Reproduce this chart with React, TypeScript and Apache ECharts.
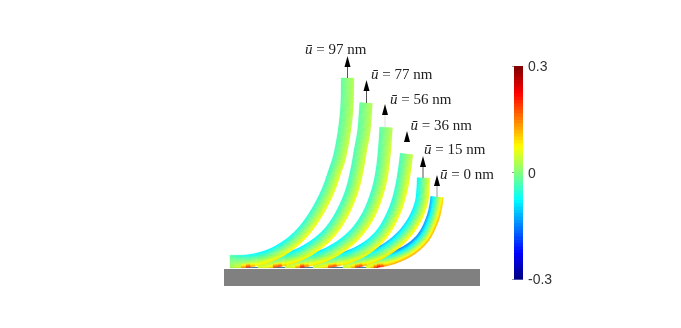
import React, { useEffect, useRef } from "react";
import * as echarts from "echarts";

// Centre lines, base to tip, with the strain at the inner and outer edge.
const beam97X = [230, 250, 270, 288, 303, 316, 327.5, 335, 340, 344.5, 347, 347.5];
const beam97Y = [261.5, 260.8, 255.5, 245.5, 232, 214, 192, 171, 155, 130, 105, 78];
const beam97In = [-0.02, -0.08, -0.09, -0.08, -0.065, -0.055, -0.05, -0.045, -0.04, -0.03, -0.025, -0.02];
const beam97Out = [0.02, 0.09, 0.09, 0.08, 0.075, 0.07, 0.065, 0.06, 0.05, 0.04, 0.035, 0.03];

const beam77X = [258, 277, 297, 315, 330, 342, 351.5, 357, 360.5, 364, 366];
const beam77Y = [261.5, 260.8, 255.5, 245.5, 232, 214, 192, 170, 150, 130, 103];
const beam77In = [-0.06, -0.1, -0.1, -0.08, -0.065, -0.055, -0.05, -0.045, -0.035, -0.03, -0.02];
const beam77Out = [0.05, 0.1, 0.09, 0.08, 0.075, 0.07, 0.065, 0.06, 0.05, 0.04, 0.03];

const beam56X = [285, 304, 324, 342, 357, 369, 377.5, 382, 384.5, 386];
const beam56Y = [261.5, 260.8, 255.5, 245.5, 232, 214, 192, 172, 150, 127.5];
const beam56In = [-0.06, -0.1, -0.1, -0.08, -0.065, -0.055, -0.05, -0.045, -0.035, -0.025];
const beam56Out = [0.05, 0.1, 0.09, 0.08, 0.075, 0.07, 0.065, 0.06, 0.05, 0.03];

const beam36X = [313, 332, 352, 370, 384, 395, 401, 404.5, 406.5];
const beam36Y = [261.5, 260.8, 255.5, 245.5, 231, 210, 190, 170, 154];
const beam36In = [-0.06, -0.11, -0.11, -0.09, -0.075, -0.065, -0.055, -0.045, -0.035];
const beam36Out = [0.05, 0.1, 0.09, 0.08, 0.08, 0.07, 0.07, 0.06, 0.04];

const beam15X = [343, 358, 376, 392, 405, 415, 421, 422.8, 423.5];
const beam15Y = [261.5, 260.8, 255, 245.5, 233.5, 219, 204, 192, 178];
const beam15In = [-0.06, -0.12, -0.13, -0.12, -0.11, -0.1, -0.09, -0.085, -0.08];
const beam15Out = [0.05, 0.1, 0.1, 0.09, 0.085, 0.08, 0.075, 0.07, 0.06];

const beam0X = [366, 380, 395, 411, 424, 432.5, 436, 437];
const beam0Y = [261.5, 260.8, 257, 249, 236.5, 219, 205, 197];
const beam0In = [-0.08, -0.13, -0.16, -0.16, -0.15, -0.14, -0.13, -0.12];
const beam0Out = [0.05, 0.13, 0.13, 0.13, 0.12, 0.12, 0.11, 0.1];

// Drawn from the smallest displacement up, so that each beam lies over the next one's base.
const beams = [
  { x: beam0X, y: beam0Y, inner: beam0In, outer: beam0Out, hot: 378 },
  { x: beam15X, y: beam15Y, inner: beam15In, outer: beam15Out, hot: 358 },
  { x: beam36X, y: beam36Y, inner: beam36In, outer: beam36Out, hot: 332 },
  { x: beam56X, y: beam56Y, inner: beam56In, outer: beam56Out, hot: 302 },
  { x: beam77X, y: beam77Y, inner: beam77In, outer: beam77Out, hot: 277 },
  { x: beam97X, y: beam97Y, inner: beam97In, outer: beam97Out, hot: 247 },
];

const displacements = [97, 77, 56, 36, 15, 0];
const arrowX = [347.5, 366.5, 385, 407, 423, 437];
const arrowBase = [78, 103, 127, 154, 178, 197];
const arrowTip = [56, 80, 104, 131, 156, 175];
const arrowStroke = ["#555", "#555", "#ddd", "#fff", "#555", "#999"];
const labelX = [305, 371, 390, 410.5, 424, 440];
const labelY = [49, 74, 99, 125, 149, 174];

const jet = ["#00007f", "#0000ff", "#007fff", "#00ffff", "#7fff7f", "#ffff00", "#ff7f00", "#ff0000", "#7f0000"];
const barMin = -0.3;
const barMax = 0.3;
const barLevels = 64;

const HALF = 6.3;
const STRIPS = 14;
const SUB = 5;

function cr(p0: number, p1: number, p2: number, p3: number, t: number) {
  return 0.5 * (2 * p1 + (p2 - p0) * t + (2 * p0 - 5 * p1 + 4 * p2 - p3) * t * t + (3 * p1 - p0 - 3 * p2 + p3) * t * t * t);
}

function sampled(a: number[]) {
  const out: number[] = [];
  for (let i = 0; i < a.length - 1; i++) {
    const p0 = a[Math.max(i - 1, 0)];
    const p3 = a[Math.min(i + 2, a.length - 1)];
    for (let k = 0; k < SUB; k++) out.push(cr(p0, a[i], a[i + 1], p3, k / SUB));
  }
  out.push(a[a.length - 1]);
  return out;
}

function buildRows() {
  const rows: number[][] = [];
  beams.forEach((b) => {
    const xs = sampled(b.x);
    const ys = sampled(b.y);
    const inn: number[] = [];
    const outr: number[] = [];
    for (let i = 0; i < b.x.length - 1; i++) {
      for (let k = 0; k < SUB; k++) {
        const t = k / SUB;
        inn.push(b.inner[i] + (b.inner[i + 1] - b.inner[i]) * t);
        outr.push(b.outer[i] + (b.outer[i + 1] - b.outer[i]) * t);
      }
    }
    inn.push(b.inner[b.inner.length - 1]);
    outr.push(b.outer[b.outer.length - 1]);
    const normal = (i: number) => {
      const a = Math.max(i - 1, 0);
      const c = Math.min(i + 1, xs.length - 1);
      const dx = xs[c] - xs[a];
      const dy = ys[c] - ys[a];
      const l = Math.hypot(dx, dy) || 1;
      return [dy / l, -dx / l];
    };
    for (let i = 0; i < xs.length - 1; i++) {
      const n0 = normal(i);
      const n1 = normal(i + 1);
      for (let s = 0; s < STRIPS; s++) {
        const o0 = HALF * (1 - (2 * s) / STRIPS);
        const o1 = HALF * (1 - (2 * (s + 1)) / STRIPS);
        const f = (s + 0.5) / STRIPS;
        const v0 = inn[i] + (outr[i] - inn[i]) * f;
        const v1 = inn[i + 1] + (outr[i + 1] - inn[i + 1]) * f;
        const near = Math.abs((xs[i] + xs[i + 1]) / 2 - b.hot);
        const boost = near < 7 && f > 0.72 ? 0.1 * (1 - near / 7) * ((f - 0.72) / 0.28 + 0.4) : 0;
        rows.push([
          xs[i] + n0[0] * o0, ys[i] + n0[1] * o0,
          xs[i] + n0[0] * o1, ys[i] + n0[1] * o1,
          xs[i + 1] + n1[0] * o1, ys[i + 1] + n1[1] * o1,
          xs[i + 1] + n1[0] * o0, ys[i + 1] + n1[1] * o0,
          (v0 + v1) / 2 + boost,
        ]);
      }
    }
  });
  return rows;
}

function buildBar() {
  const rows: number[][] = [];
  const step = (barMax - barMin) / barLevels;
  for (let i = 0; i < barLevels; i++) {
    const lo = barMin + i * step;
    rows.push([0, lo, 1, lo + step, 0, 0, 0, 0, lo + step / 2]);
  }
  return rows;
}

export default function App() {
  const ref = useRef<HTMLDivElement>(null);
  useEffect(() => {
    const chart = echarts.init(ref.current!, null, { renderer: "svg" });
    const serif = "'Liberation Serif', 'DejaVu Serif', serif";
    chart.setOption({
      animation: false,
      grid: [
        { left: 0, top: 0, width: 681, height: 328 },
        { left: 514, top: 66, width: 9, height: 213 },
      ],
      xAxis: [
        { gridIndex: 0, type: "value", min: 0, max: 681, show: false },
        { gridIndex: 1, type: "value", min: 0, max: 1, show: false },
      ],
      yAxis: [
        { gridIndex: 0, type: "value", min: 0, max: 328, inverse: true, show: false },
        {
          gridIndex: 1,
          type: "value",
          min: barMin,
          max: barMax,
          interval: 0.3,
          position: "right",
          z: 10,
          axisLine: { show: false },
          splitLine: { show: false },
          axisTick: { show: true, inside: true, length: 2, lineStyle: { color: "#555", width: 0.6 } },
          axisLabel: {
            margin: 5,
            fontFamily: "'Liberation Sans', Arial, sans-serif",
            fontSize: 14,
            color: "#333",
            formatter: (v: number) => (Math.abs(v) < 1e-9 ? "0" : String(Math.round(v * 10) / 10)),
          },
        },
      ],
      visualMap: {
        type: "continuous",
        show: false,
        seriesIndex: [1, 3],
        dimension: 8,
        min: barMin,
        max: barMax,
        inRange: { color: jet },
      },
      series: [
        {
          type: "custom",
          coordinateSystem: "cartesian2d",
          xAxisIndex: 0,
          yAxisIndex: 0,
          clip: false,
          silent: true,
          data: [[224, 269, 480, 286, "#808080"], [230, 267, 378, 268, "#4a7aa0"]],
          renderItem: (_: any, api: any) => {
            const a = api.coord([api.value(0), api.value(1)]);
            const b = api.coord([api.value(2), api.value(3)]);
            return {
              type: "rect",
              shape: { x: a[0], y: a[1], width: b[0] - a[0], height: b[1] - a[1] },
              style: { fill: api.value(4) },
            };
          },
          encode: { x: 0, y: 1 },
        },
        {
          type: "custom",
          coordinateSystem: "cartesian2d",
          xAxisIndex: 0,
          yAxisIndex: 0,
          clip: false,
          silent: true,
          z: 3,
          data: buildRows(),
          encode: { x: 0, y: 1 },
          renderItem: (_: any, api: any) => {
            const pts = [0, 2, 4, 6].map((i) => api.coord([api.value(i), api.value(i + 1)]));
            const color = api.visual("color");
            return {
              type: "polygon",
              shape: { points: pts },
              style: { fill: color, stroke: color, lineWidth: 0.4 },
            };
          },
        },
        {
          type: "custom",
          coordinateSystem: "cartesian2d",
          xAxisIndex: 0,
          yAxisIndex: 0,
          clip: false,
          silent: true,
          z: 4,
          data: displacements.map((d, i) => [arrowX[i], arrowBase[i], arrowTip[i], labelX[i], labelY[i], d]),
          encode: { x: 0, y: 1 },
          renderItem: (p: any, api: any) => {
            const i = p.dataIndex;
            const base = api.coord([api.value(0), api.value(1)]);
            const tip = api.coord([api.value(0), api.value(2)]);
            const lab = api.coord([api.value(3), api.value(4)]);
            return {
              type: "group",
              children: [
                {
                  type: "line",
                  shape: { x1: base[0], y1: base[1], x2: tip[0], y2: tip[1] + 8 },
                  style: { stroke: arrowStroke[i], lineWidth: 1 },
                },
                {
                  type: "polygon",
                  shape: {
                    points: [
                      [tip[0], tip[1]],
                      [tip[0] + 3, tip[1] + 11],
                      [tip[0] - 3, tip[1] + 11],
                    ],
                  },
                  style: { fill: "#000" },
                },
                {
                  type: "text",
                  x: lab[0],
                  y: lab[1],
                  style: {
                    text: `{i|ū} = ${api.value(5)} nm`,
                    fontFamily: serif,
                    fontSize: 15,
                    fill: "#222",
                    verticalAlign: "middle",
                    align: "left",
                    rich: {
                      i: { fontFamily: serif, fontSize: 15, fontStyle: "italic", fill: "#222" },
                    },
                  },
                },
              ],
            };
          },
        },
        {
          type: "custom",
          coordinateSystem: "cartesian2d",
          xAxisIndex: 1,
          yAxisIndex: 1,
          clip: false,
          silent: true,
          z: 2,
          data: buildBar(),
          encode: { x: 0, y: 1 },
          renderItem: (_: any, api: any) => {
            const a = api.coord([api.value(0), api.value(3)]);
            const b = api.coord([api.value(2), api.value(1)]);
            return {
              type: "rect",
              shape: { x: a[0], y: a[1], width: b[0] - a[0], height: b[1] - a[1] + 0.7 },
              style: { fill: api.visual("color") },
            };
          },
        },
      ],
    });
    return () => chart.dispose();
  }, []);
  return <div ref={ref} style={{ position: "fixed", left: 0, top: 0, width: 681, height: 328 }} />;
}
